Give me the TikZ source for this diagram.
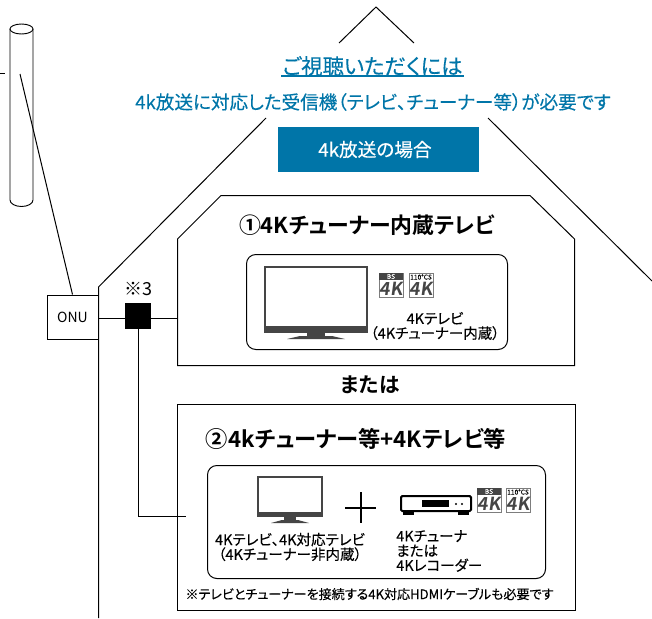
\documentclass[tikz,border=0pt]{standalone}
\usepackage{fontspec}
\setmainfont[RawFeature=+palt,FakeBold=0.25]{Noto Sans CJK JP}
\newfontfamily\thinfont{Noto Sans CJK JP}
\newfontfamily\headfont[RawFeature=+palt]{Noto Sans CJK JP Bold}
\newfontfamily\badgefont[FakeSlant=0.14]{Noto Sans CJK JP Bold}
\usetikzlibrary{positioning}

\tikzset{
  wire/.style={draw, line width=.75pt},
  label/.style={inner sep=0pt, align=center},
  heading/.style={label, font=\fontsize{16.4}{18}\headfont},
  small/.style={label, font=\fontsize{10.9}{11}\selectfont},
  inner/.style={draw, line width=.75pt, rounded corners=7pt},
  tvbody/.style={draw=tvgrey, line width=2.2pt, fill=white},
  badge/.style={draw=tvgrey!70, line width=.5pt, minimum width=18pt, minimum height=18pt, inner sep=0pt},
  badgetext/.style={inner sep=0pt, text=tvgrey, font=\fontsize{13.5}{13.5}\badgefont},
  badgetop/.style={inner sep=0pt, font=\fontsize{5}{5}\selectfont}
}

\begin{document}
\begin{tikzpicture}[x=.75pt,y=-.75pt]

\definecolor{tvblue}{rgb}{0,0.46,0.66}
\definecolor{tvgrey}{rgb}{0.27,0.27,0.27}

    \useasboundingbox (0,0) rectangle (652,618);

    % pole
    \coordinate (poletl) at (10,29);
    \coordinate (poletr) at (33,29);
    \coordinate (poleend) at (20,74);
    \draw[line width=.7pt] (21.5,29) ellipse (11.5 and 5);
    \draw[line width=.7pt] (poletl) -- (10,200) arc[start angle=180, end angle=360, x radius=11.5, y radius=-6.5] -- (poletr);
    \draw[line width=.7pt] (0,73) -- (5,73);

    % roof and wall
    \coordinate (peak) at (376,7);
    \coordinate (peakl) at (339,43);
    \coordinate (peakr) at (414,43);
    \coordinate (roofl) at (266,118);
    \coordinate (roofr) at (488,118);
    \coordinate (eavel) at (98.5,287);
    \coordinate (eaver) at (652,281);
    \coordinate (wallend) at (98.5,618);
    \draw[wire] (peakl) -- (peak) -- (peakr);
    \draw[wire] (roofl) -- (eavel) -- (wallend);
    \draw[wire] (roofr) -- (eaver);

    % headings
    \node[label, text=tvblue, font=\fontsize{16}{18}\selectfont] (title) at (372.5,66) {ご視聴いただくには};
    \draw[tvblue, line width=.8pt] (281,76) -- (464,76);
    \node[label, text=tvblue, font=\fontsize{13.95}{16}\selectfont] (subtitle) at (373,102) {4k放送に対応した受信機（テレビ、チューナー等）が必要です};
    \node[fill=tvblue, text=white, minimum width=150.75pt, minimum height=33.75pt, inner sep=0pt, font=\fontsize{14}{16}\selectfont] (case) at (378.5,149.5) {\kern-5.25pt 4k放送の場合};

    % onu and splitter
    \node[draw, line width=.75pt, minimum width=38.25pt, minimum height=33pt, inner sep=0pt, font=\fontsize{10.5}{12}\thinfont] (onu) at (72.5,317) {ONU};
    \draw[wire] (poleend) -- (onu.north);
    \node[fill=black, minimum size=19.5pt, inner sep=0pt] (split) at (138,316) {};
    \node[label, font=\fontsize{13.5}{15}\thinfont, above=5pt of split] (note3) {※3};

    % box 1
    \node[inner sep=0pt] (box1) at (177.5,318.5) {};
    \draw[wire] (177.5,239) -- (221,195.5) -- (530,195.5) -- (574.5,239) -- (574.5,365.5) -- (177.5,365.5) -- cycle;
    \draw[wire] (onu.east |- box1) -- (split.west |- box1);
    \draw[wire] (split.east |- box1) -- (box1);
    \node[heading] (head1) at (367,225) {①4Kチューナー内蔵テレビ};
    \draw[inner] (246.5,254.5) rectangle (507.5,349.5);

    % tv in box 1
    \draw[tvbody] (265,267) rectangle (367,332);
    \fill[tvgrey] (264,326) rectangle (368,333);
    \fill[tvgrey] (307,333) rectangle (325,336);
    \fill[tvgrey] (287,339) -- (300,336) -- (332,336) -- (345,339) -- cycle;

    \node[badge] (bs1) at (391,285) {};
    \node[badge] (cs1) at (421,285) {};
    \fill[tvgrey] (379,273) rectangle (403,280);
    \node[badgetop, text=white] (bs1top) at (391,276.5) {BS};
    \node[badgetop] (cs1top) at (421,277) {110°CS};
    \node[badgetext] (bs1k) at (391,289) {4K};
    \node[badgetext] (cs1k) at (421,289) {4K};
    \node[small] (tv1label) at (435,326) {4Kテレビ\\（4Kチューナー内蔵）};

    \node[heading, font=\fontsize{15.5}{17}\headfont] (or) at (370,385) {または};

    % box 2
    \node[inner sep=0pt] (box2in) at (187,516.5) {};
    \draw[wire] (177.5,404.5) rectangle (575.5,610.5);
    \draw[wire] (split.south) |- (box2in);
    \node[heading, font=\fontsize{16.7}{18}\headfont] (head2) at (356,439) {②4kチューナー等+4Kテレビ等};
    \draw[inner] (207.5,465.5) rectangle (545.5,578.5);

    % tv in box 2
    \draw[tvbody] (258,477) rectangle (322,516);
    \fill[tvgrey] (257,512) rectangle (323,517);
    \fill[tvgrey] (284,517) rectangle (296,520);
    \fill[tvgrey] (271,523) -- (282,520) -- (298,520) -- (309,523) -- cycle;

    % plus
    \draw[line width=1.9pt] (345,508) -- (376,508);
    \draw[line width=1.9pt] (361,492) -- (361,523);

    % tuner
    \draw[line width=1.5pt, rounded corners=1pt] (401,496) rectangle (471,511);
    \fill (422,500) rectangle (449,507);
    \fill (456,504) circle (1.2);
    \fill (462,504) circle (1.2);
    \fill (403,512) rectangle (414,515);
    \fill (458,512) rectangle (469,515);

    \node[badge] (bs2) at (489,500) {};
    \node[badge] (cs2) at (518,500) {};
    \fill[tvgrey] (477,488) rectangle (501,495);
    \node[badgetop, text=white] (bs2top) at (489,491.5) {BS};
    \node[badgetop] (cs2top) at (518,492) {110°CS};
    \node[badgetext] (bs2k) at (489,504) {4K};
    \node[badgetext] (cs2k) at (518,504) {4K};

    \node[small] (tv2label) at (290,547) {4Kテレビ、4K対応テレビ\\（4Kチューナー非内蔵）};
    \node[small, align=left, anchor=west] (tunerlabel) at (396,551) {4Kチューナ\\または\\4Kレコーダー};
    \node[label, font=\fontsize{9.8}{11}\selectfont] (footnote) at (369.5,594) {※テレビとチューナーを接続する4K対応HDMIケーブルも必要です};

\end{tikzpicture}
\end{document}
